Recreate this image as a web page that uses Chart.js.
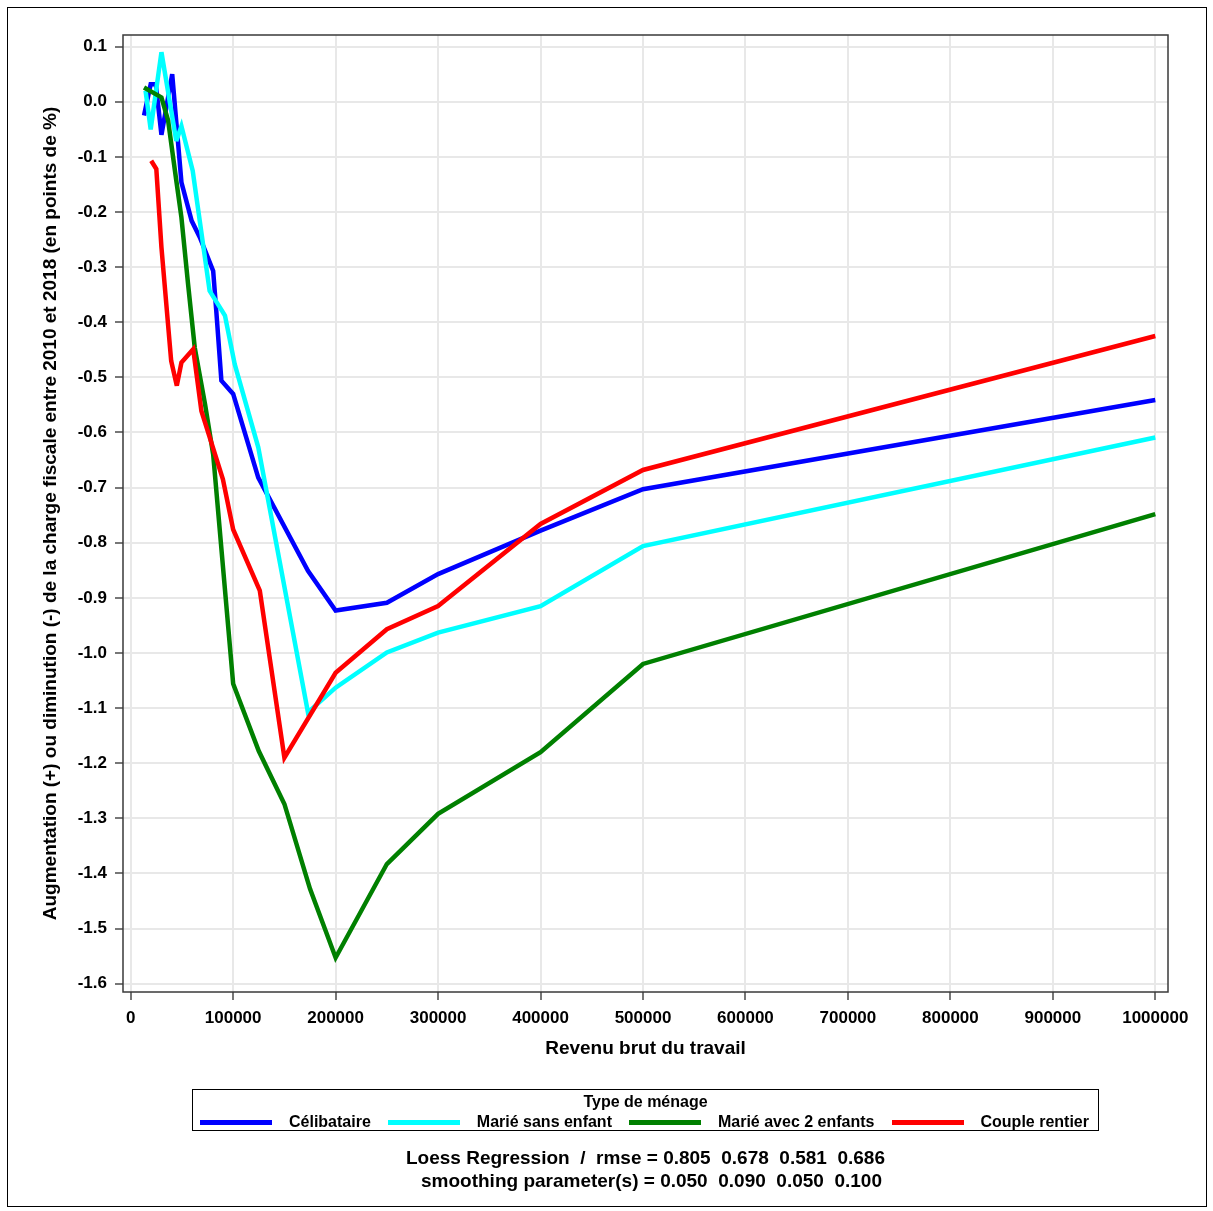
<!DOCTYPE html>
<html>
<head>
<meta charset="utf-8">
<script src="https://cdn.jsdelivr.net/npm/chart.js@4.4.1/dist/chart.umd.min.js"></script>
<style>
html,body{margin:0;padding:0;background:#fff;}
#wrap{position:relative;width:1213px;height:1211px;overflow:hidden;background:#fff;}
#frame{position:absolute;left:7px;top:7px;width:1198px;height:1198px;border:1px solid #000;pointer-events:none;}
#c{position:absolute;left:0;top:0;}
.txt{font-family:"Liberation Sans",Arial,sans-serif;font-weight:bold;color:#000;}
#legend{position:absolute;left:192px;top:1089px;width:905px;height:40px;border:1px solid #000;box-sizing:content-box;}
#legTitle{position:absolute;left:0;right:0;top:2px;text-align:center;font-size:16px;line-height:20px;}
#legRow{position:absolute;left:7px;top:22px;display:flex;align-items:center;font-size:16px;line-height:20px;white-space:nowrap;}
.sw{display:inline-block;width:72px;height:5px;margin-right:17px;}
.lab{margin-right:17px;}
#foot{position:absolute;left:192px;width:907px;top:1146px;text-align:center;font-size:19px;line-height:23px;white-space:pre;}
</style>
</head>
<body>
<div id="wrap">
  <canvas id="c" width="1213" height="1211"></canvas>
  <div id="frame"></div>
  <div id="legend" class="txt">
    <div id="legTitle">Type de ménage</div>
    <div id="legRow"></div>
  </div>
  <div id="foot" class="txt"><div id="foot1"></div><div id="foot2" style="padding-left:12px"></div></div>
</div>
<script>
// ---- data ----
const seriesNames = ["Célibataire", "Marié sans enfant", "Marié avec 2 enfants", "Couple rentier"];

const celibX = [13000, 19500, 24500, 30000, 40500, 49500, 59500, 67500, 80500, 83500, 88500, 100000, 124500, 173000, 200000, 250000, 300000, 400000, 500000, 1000000];
const celibY = [-0.025, 0.032, 0.032, -0.060, 0.050, -0.146, -0.216, -0.246, -0.307, -0.379, -0.506, -0.530, -0.682, -0.851, -0.923, -0.909, -0.857, -0.778, -0.703, -0.541];

const sansX = [14500, 19500, 30000, 44500, 49500, 60500, 77000, 92000, 101500, 124500, 173000, 200000, 250000, 300000, 400000, 500000, 1000000];
const sansY = [0.020, -0.050, 0.090, -0.071, -0.044, -0.125, -0.343, -0.388, -0.476, -0.627, -1.108, -1.063, -0.999, -0.963, -0.915, -0.806, -0.609];

const enfX = [13000, 30000, 36500, 44500, 49500, 56000, 62500, 72500, 80500, 100000, 125000, 150000, 175000, 200000, 250000, 300000, 400000, 500000, 1000000];
const enfY = [0.026, 0.008, -0.034, -0.143, -0.210, -0.331, -0.446, -0.548, -0.640, -1.056, -1.178, -1.274, -1.428, -1.553, -1.383, -1.292, -1.180, -1.020, -0.748];

const rentX = [20000, 25000, 30000, 39500, 45000, 49500, 61000, 69000, 90000, 100000, 126000, 150000, 200000, 250000, 300000, 400000, 500000, 1000000];
const rentY = [-0.107, -0.122, -0.264, -0.470, -0.515, -0.473, -0.449, -0.561, -0.685, -0.776, -0.887, -1.190, -1.036, -0.957, -0.915, -0.766, -0.668, -0.425];

const xTicks = [0, 100000, 200000, 300000, 400000, 500000, 600000, 700000, 800000, 900000, 1000000];
const yTicks = [0.1, 0.0, -0.1, -0.2, -0.3, -0.4, -0.5, -0.6, -0.7, -0.8, -0.9, -1.0, -1.1, -1.2, -1.3, -1.4, -1.5, -1.6];

const xTitle = "Revenu brut du travail";
const yTitle = "Augmentation (+) ou diminution (-) de la charge fiscale entre 2010 et 2018 (en points de %)";
const legendTitle = "Type de ménage";
const footLine1 = "Loess Regression  /  rmse = 0.805  0.678  0.581  0.686";
const footLine2 = "smoothing parameter(s) = 0.050  0.090  0.050  0.100";

// ---- styling ----
const colors = ["#0000FF", "#00FFFF", "#008000", "#FF0000"];
const xsAll = [celibX, sansX, enfX, rentX];
const ysAll = [celibY, sansY, enfY, rentY];

const datasets = seriesNames.map((name, k) => ({
  label: name,
  data: xsAll[k].map((x, i) => ({x: x, y: ysAll[k][i]})),
  borderColor: colors[k],
  backgroundColor: colors[k],
  borderWidth: 4.5,
  pointRadius: 0,
  tension: 0,
  fill: false,
  order: 4 - k
}));

const FONT = "'Liberation Sans', Arial, sans-serif";

const framePlugin = {
  id: 'frame',
  beforeDatasetsDraw(chart) {
    chart.ctx.miterLimit = 4;
  },
  afterDatasetsDraw(chart) {
    const a = chart.chartArea, ctx = chart.ctx;
    ctx.save();
    ctx.strokeStyle = '#3a3a3a';
    ctx.lineWidth = 1.5;
    ctx.strokeRect(a.left, a.top, a.right - a.left, a.bottom - a.top);
    ctx.restore();
  }
};

new Chart(document.getElementById('c'), {
  type: 'line',
  data: {datasets: datasets},
  plugins: [framePlugin],
  options: {
    responsive: false,
    animation: false,
    devicePixelRatio: 1,
    layout: {padding: {left: 0, top: 35, right: 45, bottom: 149}},
    plugins: {legend: {display: false}, tooltip: {enabled: false}, title: {display: false}},
    scales: {
      x: {
        type: 'linear',
        min: -7520,
        max: 1012400,
        afterFit(s) { s.height = 70; },
        afterBuildTicks(s) { s.ticks = xTicks.map(v => ({value: v})); },
        ticks: {
          autoSkip: false, maxRotation: 0,
          padding: 8,
          color: '#000',
          font: {family: FONT, size: 17, weight: 'bold'},
          callback: v => String(v)
        },
        grid: {color: '#e8e8e8', lineWidth: 2, tickLength: 8, tickColor: '#777', tickWidth: 2},
        border: {display: false},
        title: {display: true, text: xTitle, color: '#000', padding: {top: 0, bottom: 2},
                font: {family: FONT, size: 19, weight: 'bold'}}
      },
      y: {
        type: 'linear',
        min: -1.6152,
        max: 0.1212,
        afterFit(s) { s.width = 123; },
        afterBuildTicks(s) { s.ticks = yTicks.map(v => ({value: v})); },
        ticks: {
          autoSkip: false,
          padding: 8,
          color: '#000',
          font: {family: FONT, size: 17, weight: 'bold'},
          callback: v => Number(v).toFixed(1)
        },
        grid: {color: '#e8e8e8', lineWidth: 2, tickLength: 8, tickColor: '#777', tickWidth: 2},
        border: {display: false},
        title: {display: true, text: yTitle, color: '#000', padding: {top: 39, bottom: 0},
                font: {family: FONT, size: 19, weight: 'bold'}}
      }
    }
  }
});

// ---- legend & footnote (HTML text) ----
document.getElementById('legTitle').textContent = legendTitle;
const row = document.getElementById('legRow');
seriesNames.forEach((name, k) => {
  const sw = document.createElement('span');
  sw.className = 'sw';
  sw.style.background = colors[k];
  const lab = document.createElement('span');
  lab.className = 'lab';
  lab.textContent = name;
  row.appendChild(sw);
  row.appendChild(lab);
});
document.getElementById('foot1').textContent = footLine1;
document.getElementById('foot2').textContent = footLine2;
</script>
</body>
</html>
